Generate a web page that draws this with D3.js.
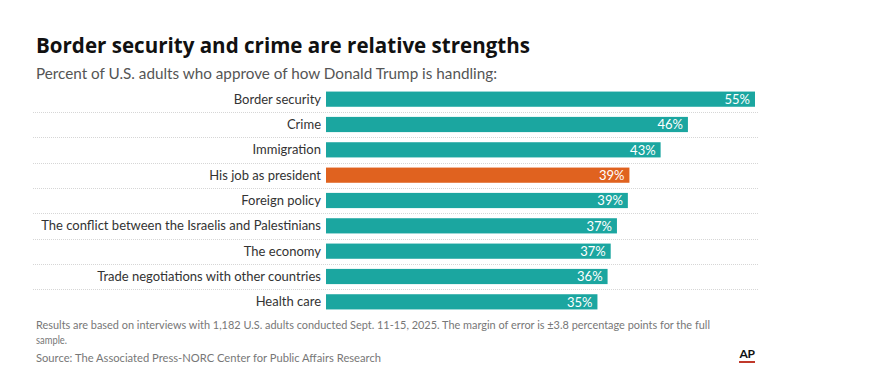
<!DOCTYPE html>
<html><head><meta charset="utf-8">
<script src="https://cdn.jsdelivr.net/npm/d3@7"></script>
<style>
html,body{margin:0;padding:0;background:#fff;}
svg{display:block;font-family:Lato,"Noto Sans",sans-serif;}
</style></head>
<body>
<svg id="chart" width="886" height="382"></svg>
<script>
const categories = ["Border security","Crime","Immigration","His job as president","Foreign policy","The conflict between the Israelis and Palestinians","The economy","Trade negotiations with other countries","Health care"];
const values = [55, 46.4, 42.9, 38.9, 38.7, 37.3, 36.5, 36.1, 34.8];
const valueLabels = ["55%","46%","43%","39%","39%","37%","37%","36%","35%"];
const highlight = ["His job as president"];
const title = "Border security and crime are relative strengths";
const subtitle = "Percent of U.S. adults who approve of how Donald Trump is handling:";
const note1 = "Results are based on interviews with 1,182 U.S. adults conducted Sept. 11-15, 2025. The margin of error is ±3.8 percentage points for the full";
const note2 = "sample.";
const source = "Source: The Associated Press-NORC Center for Public Affairs Research";

const svg = d3.select("#chart");
const x0 = 326;
const x = d3.scaleLinear().domain([0, 55]).range([x0, 755]);
const y = d3.scaleBand().domain(categories).range([86.5, 314.5]).paddingInner(0.4).paddingOuter(0.2);

svg.append("text").attr("x",36).attr("y",53).attr("font-size",21).attr("font-weight",700)
  .attr("font-family","'Open Sans',sans-serif").attr("textLength",494).attr("lengthAdjust","spacingAndGlyphs")
  .attr("fill","#111").text(title);
svg.append("text").attr("x",36).attr("y",79).attr("font-size",15.2).attr("fill","#555")
  .attr("textLength",461).attr("lengthAdjust","spacingAndGlyphs").text(subtitle);

// separators
const step = y.step();
svg.append("g").selectAll("line").data(categories.slice(0,-1)).join("line")
  .attr("x1",33).attr("x2",758)
  .attr("y1",d=>Math.round(y(d)+y.bandwidth()/2+step/2)+0.5)
  .attr("y2",d=>Math.round(y(d)+y.bandwidth()/2+step/2)+0.5)
  .attr("stroke","#d6d6d6").attr("stroke-width",1).attr("stroke-dasharray","1,1");

svg.append("g").selectAll("rect").data(categories).join("rect")
  .attr("x",x0).attr("y",d=>y(d)).attr("height",y.bandwidth())
  .attr("width",(d,i)=>x(values[i])-x0)
  .attr("fill",d=>highlight.includes(d)?"#e0621f":"#1ba6a0");

svg.append("g").selectAll("text").data(categories).join("text")
  .attr("x",321).attr("y",d=>y(d)+y.bandwidth()/2).attr("dy","0.35em")
  .attr("text-anchor","end").attr("font-size",13).attr("fill","#333").text(d=>d);

svg.append("g").selectAll("text").data(categories).join("text")
  .attr("x",(d,i)=>x(values[i])-5).attr("y",d=>y(d)+y.bandwidth()/2).attr("dy","0.36em")
  .attr("text-anchor","end").attr("font-size",13).attr("fill","#fff").text((d,i)=>valueLabels[i]);

svg.append("text").attr("x",36).attr("y",329).attr("font-size",11).attr("fill","#777")
  .attr("textLength",674).attr("lengthAdjust","spacingAndGlyphs").text(note1);
svg.append("text").attr("x",36).attr("y",344).attr("font-size",11).attr("fill","#777")
  .attr("textLength",31).attr("lengthAdjust","spacingAndGlyphs").text(note2);
svg.append("text").attr("x",36).attr("y",362).attr("font-size",11).attr("fill","#777")
  .attr("textLength",345).attr("lengthAdjust","spacingAndGlyphs").text(source);

// AP logo
svg.append("text").attr("x",747).attr("y",358).attr("text-anchor","middle").attr("font-size",12)
  .attr("font-weight",700).attr("fill","#111").attr("letter-spacing","-0.5").text("AP");
svg.append("rect").attr("x",739).attr("y",361).attr("width",16).attr("height",2).attr("fill","#c0392b");
</script>
</body></html>
